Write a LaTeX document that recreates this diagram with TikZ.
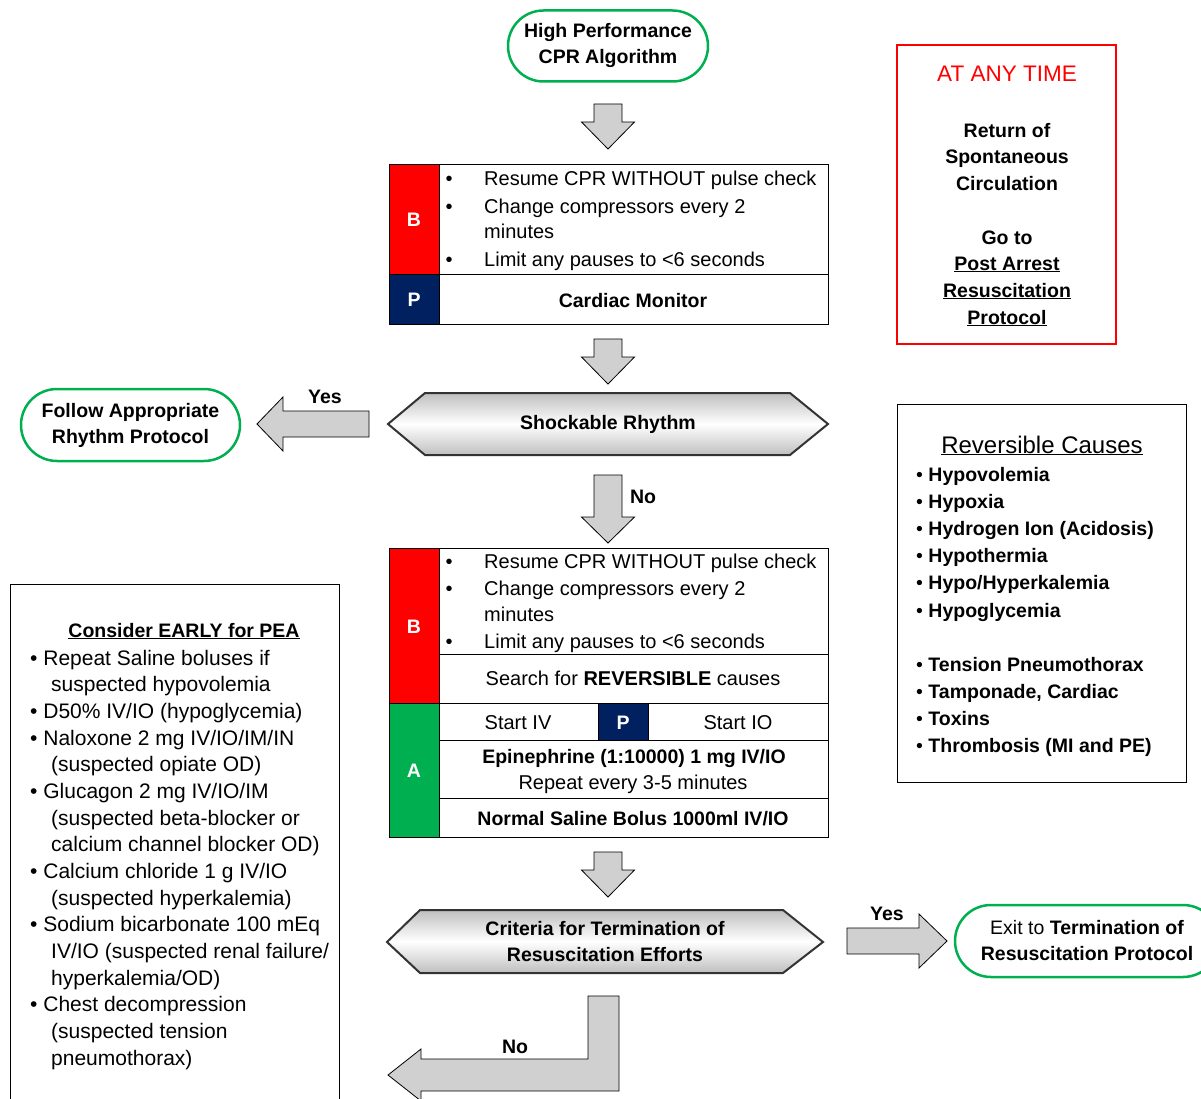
\documentclass[tikz,border=0pt]{standalone}
\usepackage{fontspec}
\setmainfont{Liberation Sans}
\usetikzlibrary{shapes.misc}
\definecolor{pillgreen}{RGB}{0,176,80}
\definecolor{cellred}{RGB}{255,0,0}
\definecolor{cellnavy}{RGB}{0,32,96}
\definecolor{cellgreen}{RGB}{0,176,80}
\definecolor{arrowgray}{RGB}{208,208,208}
\begin{document}
\begin{tikzpicture}[x=1pt,y=-1pt,
    txt/.style={inner sep=0pt, text height=17pt, text depth=3pt, font=\fontsize{20}{26}\selectfont},
    btxt/.style={txt, font=\fontsize{19.5}{26}\selectfont\bfseries},
    lettr/.style={btxt, text=white},
    ltxt/.style={txt, anchor=west, font=\fontsize{21}{26}\selectfont},
    pill/.style={rounded rectangle, draw=pillgreen, line width=2.5pt, align=center, inner sep=0pt, font=\fontsize{19.5}{26}\selectfont\bfseries},
    cell/.style={draw=black, line width=1pt},
    blockarrow/.style={draw=black, fill=arrowgray, line width=0.8pt},
    banner/.style={draw=black!80, line width=2pt, top color=gray!50, bottom color=gray!50, middle color=white},
    bannertxt/.style={align=center, inner sep=0pt, font=\fontsize{19.5}{26}\selectfont\bfseries}]
    \useasboundingbox (0,0) rectangle (1201,1099);
    \clip (0,0) rectangle (1201,1099);

    % start
    \node[pill, minimum width=200pt, minimum height=71pt] (start) at (608,46) {High Performance\\CPR Algorithm};

    \coordinate (a1) at (608,104);
    \draw[blockarrow] (a1) ++(-14,0) -- ++(28,0) -- ++(0,18) -- ++(12.5,0) -- ++(-26.5,27) -- ++(-26.5,-27) -- ++(12.5,0) -- cycle;

    % first B/P box
    \draw[cell, fill=cellred] (389,165) rectangle (439,274);
    \draw[cell, fill=cellnavy] (389,274) rectangle (439,324);
    \draw[cell] (439,165) rectangle (828,274);
    \draw[cell] (439,274) rectangle (828,324);
    \node[lettr] (b1) at (414,220) {B};
    \node[lettr] (p1) at (414,299) {P};
    \node[txt] (b1d1) at (449,179) {\textbullet};
    \node[txt] (b1d2) at (449,207) {\textbullet};
    \node[txt] (b1d3) at (449,259) {\textbullet};
    \node[txt, anchor=west] (b1t1) at (484,179) {Resume CPR WITHOUT pulse check};
    \node[txt, anchor=west] (b1t2) at (484,207) {Change compressors every 2};
    \node[txt, anchor=west] (b1t3) at (484,232) {minutes};
    \node[txt, anchor=west] (b1t4) at (484,259) {Limit any pauses to <6 seconds};
    \node[btxt] (mon) at (633,300) {Cardiac Monitor};

    \coordinate (a2) at (608,339);
    \draw[blockarrow] (a2) ++(-14,0) -- ++(28,0) -- ++(0,18) -- ++(12.5,0) -- ++(-26.5,27) -- ++(-26.5,-27) -- ++(12.5,0) -- cycle;

    % shockable
    \draw[banner] (388,424) -- (425,393) -- (790,393) -- (828,424) -- (790,455) -- (425,455) -- cycle;
    \node[bannertxt] (shock) at (608,424) {Shockable Rhythm};

    \draw[blockarrow] (369,411) -- (283,411) -- (283,397) -- (257,424) -- (283,451) -- (283,437) -- (369,437) -- cycle;
    \node[btxt] (yes1) at (325,396) {Yes};
    \node[pill, minimum width=219pt, minimum height=72pt] (follow) at (130.5,425) {Follow Appropriate\\Rhythm Protocol};

    \coordinate (a3) at (608,475);
    \draw[blockarrow] (a3) ++(-14,0) -- ++(28,0) -- ++(0,42) -- ++(12.5,0) -- ++(-26.5,26) -- ++(-26.5,-26) -- ++(12.5,0) -- cycle;
    \node[btxt] (no1) at (643,496) {No};

    % second B/A box
    \draw[cell, fill=cellred] (389,548) rectangle (439,703);
    \draw[cell, fill=cellgreen] (389,703) rectangle (439,837);
    \draw[cell] (439,548) rectangle (828,654);
    \draw[cell] (439,654) rectangle (828,703);
    \draw[cell] (439,703) rectangle (598,740);
    \draw[cell, fill=cellnavy] (598,703) rectangle (648,740);
    \draw[cell] (648,703) rectangle (828,740);
    \draw[cell] (439,740) rectangle (828,798);
    \draw[cell] (439,798) rectangle (828,837);
    \node[lettr] (b2) at (414,626) {B};
    \node[lettr] (a2l) at (414,770) {A};
    \node[lettr] (p2) at (623,722) {P};
    \node[txt] (b2d1) at (449,561) {\textbullet};
    \node[txt] (b2d2) at (449,588) {\textbullet};
    \node[txt] (b2d3) at (449,641) {\textbullet};
    \node[txt, anchor=west] (b2t1) at (484,561) {Resume CPR WITHOUT pulse check};
    \node[txt, anchor=west] (b2t2) at (484,588) {Change compressors every 2};
    \node[txt, anchor=west] (b2t3) at (484,614) {minutes};
    \node[txt, anchor=west] (b2t4) at (484,641) {Limit any pauses to <6 seconds};
    \node[txt] (search) at (633,678) {Search for \textbf{REVERSIBLE} causes};
    \node[txt] (siv) at (518,722) {Start IV};
    \node[txt] (sio) at (738,722) {Start IO};
    \node[btxt] (epi) at (634,756) {Epinephrine (1:10000) 1 mg IV/IO};
    \node[txt] (rep) at (633,782) {Repeat every 3-5 minutes};
    \node[btxt] (ns) at (633,818) {Normal Saline Bolus 1000ml IV/IO};

    \coordinate (a4) at (608,852);
    \draw[blockarrow] (a4) ++(-14,0) -- ++(28,0) -- ++(0,18) -- ++(12.5,0) -- ++(-26.5,27) -- ++(-26.5,-27) -- ++(12.5,0) -- cycle;

    % termination
    \draw[banner] (387,942) -- (420,910) -- (783,910) -- (823,942) -- (783,973) -- (420,973) -- cycle;
    \node[bannertxt] (term) at (605,942) {Criteria for Termination of\\Resuscitation Efforts};

    \draw[blockarrow] (847,928) -- (919,928) -- (919,914) -- (947,941) -- (919,968) -- (919,954) -- (847,954) -- cycle;
    \node[btxt] (yes2) at (887,913) {Yes};
    \node[pill, minimum width=264pt, minimum height=72pt] (exit) at (1087,941) {\mdseries Exit to \bfseries Termination of\\Resuscitation Protocol};

    \draw[blockarrow] (588,996) -- (619,996) -- (619,1091) -- (421,1091) -- (421,1101) -- (388,1075) -- (421,1049) -- (421,1059) -- (588,1059) -- cycle;
    \node[btxt] (no2) at (515,1046) {No};

    % at any time
    \draw[draw=cellred, line width=2.5pt] (897,45) rectangle (1116,344);
    \node[txt, text=cellred, font=\fontsize{22.5}{26}\selectfont] (any) at (1007,75) {AT ANY TIME};
    \node[btxt] (r1) at (1007,131) {Return of};
    \node[btxt] (r2) at (1007,157) {Spontaneous};
    \node[btxt] (r3) at (1007,184) {Circulation};
    \node[btxt] (r4) at (1007,237) {Go to};
    \node[btxt] (r5) at (1007,263) {\underline{Post Arrest}};
    \node[btxt] (r6) at (1007,290) {\underline{Resuscitation}};
    \node[btxt] (r7) at (1007,317) {\underline{Protocol}};

    % reversible causes
    \draw[cell] (897,404) rectangle (1186,782);
    \node[txt, font=\fontsize{24}{26}\selectfont] (rev) at (1042,446) {\underline{Reversible Causes}};
    \node[btxt, anchor=west] (h1) at (916,474) {\mdseries\textbullet\ \bfseries Hypovolemia};
    \node[btxt, anchor=west] (h2) at (916,501) {\mdseries\textbullet\ \bfseries Hypoxia};
    \node[btxt, anchor=west] (h3) at (916,528) {\mdseries\textbullet\ \bfseries Hydrogen Ion (Acidosis)};
    \node[btxt, anchor=west] (h4) at (916,555) {\mdseries\textbullet\ \bfseries Hypothermia};
    \node[btxt, anchor=west] (h5) at (916,582) {\mdseries\textbullet\ \bfseries Hypo/Hyperkalemia};
    \node[btxt, anchor=west] (h6) at (916,610) {\mdseries\textbullet\ \bfseries Hypoglycemia};
    \node[btxt, anchor=west] (t1) at (916,664) {\mdseries\textbullet\ \bfseries Tension Pneumothorax};
    \node[btxt, anchor=west] (t2) at (916,691) {\mdseries\textbullet\ \bfseries Tamponade, Cardiac};
    \node[btxt, anchor=west] (t3) at (916,718) {\mdseries\textbullet\ \bfseries Toxins};
    \node[btxt, anchor=west] (t4) at (916,745) {\mdseries\textbullet\ \bfseries Thrombosis (MI and PE)};

    % consider early
    \draw[cell] (10,584) rectangle (339,1120);
    \node[btxt] (pea) at (184,630) {\underline{Consider EARLY for PEA}};
    \node[ltxt] (e1) at (30,658) {\textbullet\ Repeat Saline boluses if};
    \node[ltxt] (e2) at (51,684) {suspected hypovolemia};
    \node[ltxt] (e3) at (30,711) {\textbullet\ D50\% IV/IO (hypoglycemia)};
    \node[ltxt] (e4) at (30,738) {\textbullet\ Naloxone 2 mg IV/IO/IM/IN};
    \node[ltxt] (e5) at (51,764) {(suspected opiate OD)};
    \node[ltxt] (e6) at (30,791) {\textbullet\ Glucagon 2 mg IV/IO/IM};
    \node[ltxt] (e7) at (51,818) {(suspected beta-blocker or};
    \node[ltxt] (e8) at (51,844) {calcium channel blocker OD)};
    \node[ltxt] (e9) at (30,871) {\textbullet\ Calcium chloride 1 g IV/IO};
    \node[ltxt] (e10) at (51,898) {(suspected hyperkalemia)};
    \node[ltxt] (e11) at (30,924) {\textbullet\ Sodium bicarbonate 100 mEq};
    \node[ltxt] (e12) at (51,951) {IV/IO (suspected renal failure/};
    \node[ltxt] (e13) at (51,978) {hyperkalemia/OD)};
    \node[ltxt] (e14) at (30,1004) {\textbullet\ Chest decompression};
    \node[ltxt] (e15) at (51,1031) {(suspected tension};
    \node[ltxt] (e16) at (51,1058) {pneumothorax)};

\end{tikzpicture}
\end{document}
